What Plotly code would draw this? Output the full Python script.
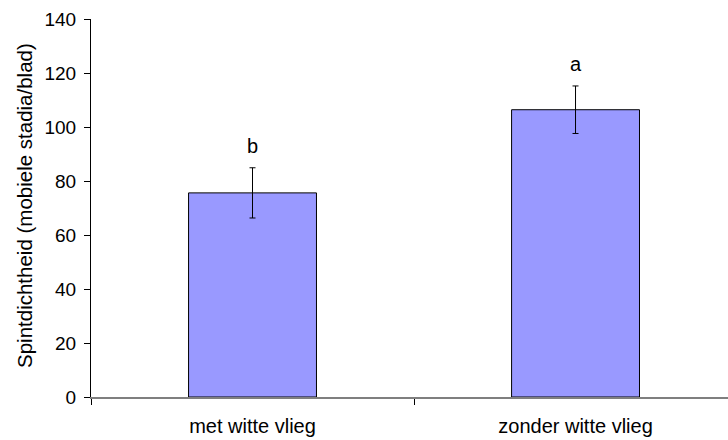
import plotly.graph_objects as go

categories = ["met witte vlieg", "zonder witte vlieg"]
means = [75.6, 106.4]
errors = [9.3, 8.8]
letters = ["b", "a"]
y_ticks = [0, 20, 40, 60, 80, 100, 120, 140]
y_title = "Spintdichtheid (mobiele stadia/blad)"

FONT = "Liberation Sans, Arial, sans-serif"

fig = go.Figure()
fig.add_trace(go.Bar(
    x=categories, y=means,
    marker=dict(color="#9999FF", line=dict(color="black", width=1)),
    error_y=dict(type="data", array=errors, visible=True, color="black",
                 thickness=1, width=3),
    showlegend=False,
))

for c, m, e, l in zip(categories, means, errors, letters):
    fig.add_annotation(x=c, y=m + e, text=l, showarrow=False,
                       yanchor="bottom", yshift=9,
                       font=dict(family=FONT, size=20, color="black"))

# y-axis title placed as rotated text left of the tick labels
fig.add_annotation(x=0, y=0.5, xref="paper", yref="paper", text=y_title,
                   showarrow=False, textangle=-90, xanchor="center",
                   yanchor="middle", xshift=-67, yshift=2,
                   font=dict(family=FONT, size=20.5, color="black"))

fig.update_layout(
    width=728, height=440,
    margin=dict(l=91, r=0, t=19, b=43),
    paper_bgcolor="white", plot_bgcolor="white",
    bargap=0.604,
    font=dict(family=FONT, size=19, color="black"),
)
fig.update_xaxes(
    type="category", range=[-0.5, 1.472],
    showline=True, linecolor="#7f7f7f", linewidth=1.5,
    ticks="outside", tickson="boundaries", ticklen=6, tickcolor="black",
    showgrid=False, zeroline=False,
    ticklabelstandoff=10,
    tickfont=dict(family=FONT, size=20, color="black"),
)
fig.update_yaxes(
    range=[0, 140], tickvals=y_ticks,
    showline=True, linecolor="black", linewidth=1,
    ticks="outside", ticklen=6, tickcolor="black",
    showgrid=False, zeroline=False,
    ticklabelstandoff=4,
    tickfont=dict(family=FONT, size=19, color="black"),
)

fig.write_html("out.html", config={"displayModeBar": False},
               post_script="document.body.style.margin='0';document.body.style.padding='0';")
